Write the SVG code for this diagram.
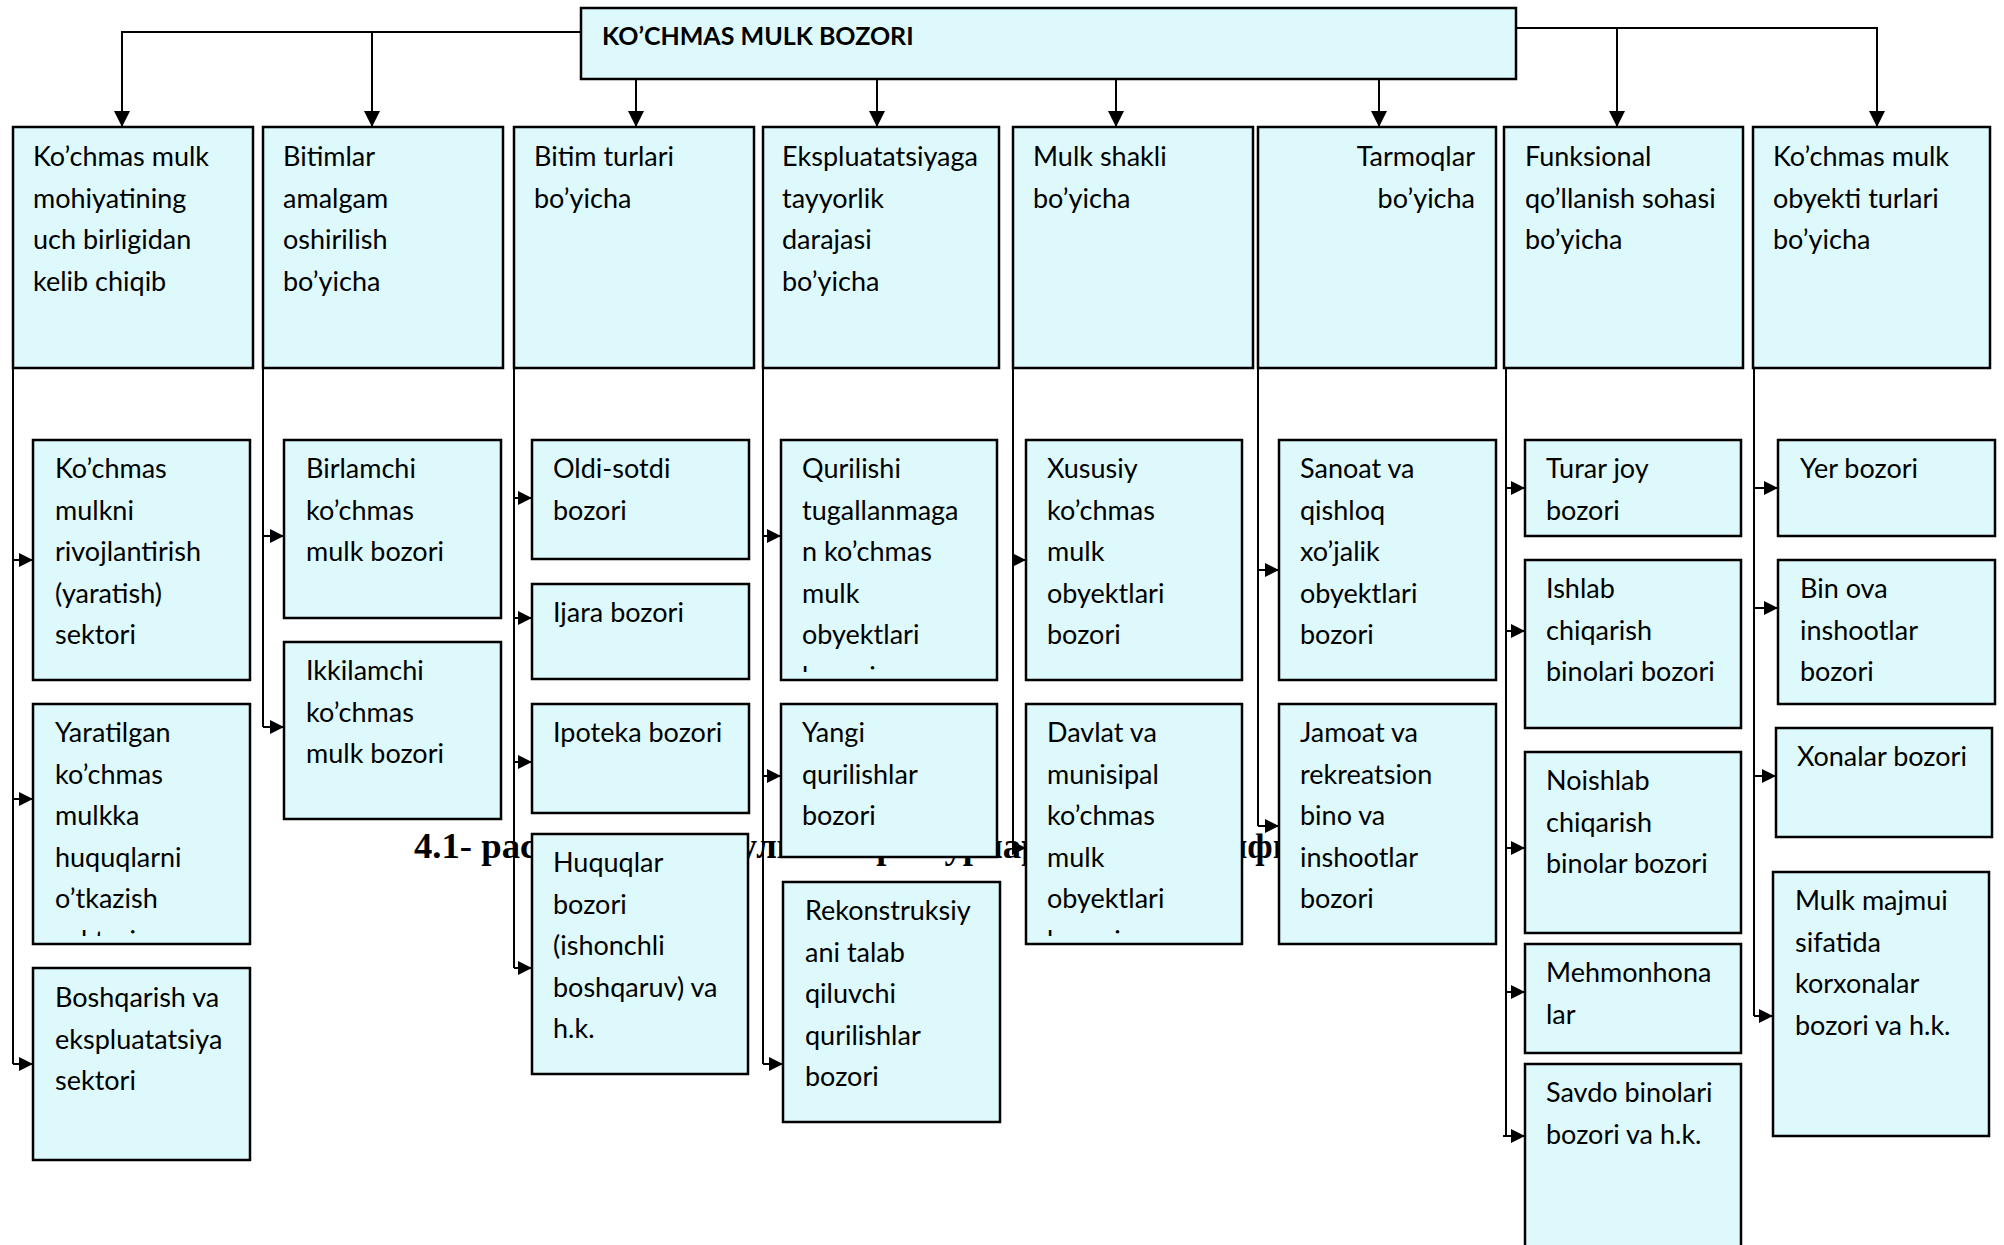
<svg xmlns="http://www.w3.org/2000/svg" width="2004" height="1245" viewBox="0 0 2004 1245">
<style>
.box{fill:#ddf9fb;stroke:#000;stroke-width:2.5}
.t{font-family:Lato,"Open Sans",sans-serif;font-size:27px;fill:#000}
.tb{font-family:Lato,"Open Sans",sans-serif;font-size:25px;font-weight:bold;fill:#000}
.cap{font-family:"Liberation Serif","Times New Roman",serif;font-size:36.7px;font-weight:bold;fill:#000}
.c{stroke:#000;stroke-width:2;fill:none}
.down{marker-end:url(#ah)}
.side{marker-end:url(#as)}
</style>
<defs>
<marker id="ah" viewBox="0 0 10 10" refX="10" refY="5" markerUnits="userSpaceOnUse" markerWidth="16" markerHeight="16" orient="auto"><path d="M0,0 L10,5 L0,10 z" fill="#000"/></marker>
<marker id="as" viewBox="0 0 10 10" refX="10" refY="5" markerUnits="userSpaceOnUse" markerWidth="14" markerHeight="14" orient="auto"><path d="M0,0 L10,5 L0,10 z" fill="#000"/></marker>
<clipPath id="clipA2"><rect x="33" y="704" width="217" height="232"/></clipPath>
<clipPath id="clipD1"><rect x="781" y="440" width="216" height="232"/></clipPath>
<clipPath id="clipE2"><rect x="1026" y="704" width="216" height="232"/></clipPath>
</defs>
<rect width="2004" height="1245" fill="#fff"/>

<text class="cap" x="414" y="858">4.1- расм. Кўчмас мулк бозори турларининг таснифи</text>

<g id="connectors">
<path class="c down" d="M581,32 H122 V127"/>
<path class="c down" d="M372,32 V127"/>
<path class="c down" d="M636,79 V127"/>
<path class="c down" d="M877,79 V127"/>
<path class="c down" d="M1116,79 V127"/>
<path class="c down" d="M1379,79 V127"/>
<path class="c down" d="M1517,28 H1877 V127"/>
<path class="c down" d="M1617,28 V127"/>

<path class="c" d="M13,368 V1064"/>
<path class="c side" d="M13,560 H33"/>
<path class="c side" d="M13,799 H33"/>
<path class="c side" d="M13,1064 H33"/>

<path class="c" d="M263,368 V727"/>
<path class="c side" d="M263,536 H284"/>
<path class="c side" d="M263,727 H284"/>

<path class="c" d="M514,368 V968"/>
<path class="c side" d="M514,498 H532"/>
<path class="c side" d="M514,618 H532"/>
<path class="c side" d="M514,762 H532"/>
<path class="c side" d="M514,968 H532"/>

<path class="c" d="M763,368 V1064"/>
<path class="c side" d="M763,536 H781"/>
<path class="c side" d="M763,776 H781"/>
<path class="c side" d="M763,1064 H783"/>

<path class="c" d="M1013,368 V848"/>
<path class="c side" d="M1013,560 H1026"/>
<path class="c side" d="M1013,848 H1026"/>

<path class="c" d="M1258,368 V826"/>
<path class="c side" d="M1258,570 H1279"/>
<path class="c side" d="M1258,826 H1279"/>

<path class="c" d="M1506,368 V1136"/>
<path class="c side" d="M1506,488 H1525"/>
<path class="c side" d="M1506,631 H1525"/>
<path class="c side" d="M1506,848 H1525"/>
<path class="c side" d="M1506,992 H1525"/>
<path class="c side" d="M1503,1136 H1525"/>

<path class="c" d="M1754,368 V1016"/>
<path class="c side" d="M1754,488 H1778"/>
<path class="c side" d="M1754,608 H1778"/>
<path class="c side" d="M1754,776 H1776"/>
<path class="c side" d="M1754,1016 H1773"/>
</g>

<g id="root">
<rect class="box" x="581" y="8" width="935" height="71"/>
<text class="tb" x="602" y="45">KO’CHMAS MULK BOZORI</text>
</g>

<g id="cat1"><rect class="box" x="13" y="127" width="240" height="241"/>
<text class="t" x="33" y="166"><tspan x="33">Ko’chmas mulk</tspan><tspan x="33" dy="41.5">mohiyatining</tspan><tspan x="33" dy="41.5">uch birligidan</tspan><tspan x="33" dy="41.5">kelib chiqib</tspan></text></g>
<g id="cat2"><rect class="box" x="263" y="127" width="240" height="241"/>
<text class="t" x="283" y="166"><tspan x="283">Bitimlar</tspan><tspan x="283" dy="41.5">amalgam</tspan><tspan x="283" dy="41.5">oshirilish</tspan><tspan x="283" dy="41.5">bo’yicha</tspan></text></g>
<g id="cat3"><rect class="box" x="514" y="127" width="240" height="241"/>
<text class="t" x="534" y="166"><tspan x="534">Bitim turlari</tspan><tspan x="534" dy="41.5">bo’yicha</tspan></text></g>
<g id="cat4"><rect class="box" x="763" y="127" width="236" height="241"/>
<text class="t" x="782" y="166"><tspan x="782">Ekspluatatsiyaga</tspan><tspan x="782" dy="41.5">tayyorlik</tspan><tspan x="782" dy="41.5">darajasi</tspan><tspan x="782" dy="41.5">bo’yicha</tspan></text></g>
<g id="cat5"><rect class="box" x="1013" y="127" width="240" height="241"/>
<text class="t" x="1033" y="166"><tspan x="1033">Mulk shakli</tspan><tspan x="1033" dy="41.5">bo’yicha</tspan></text></g>
<g id="cat6"><rect class="box" x="1258" y="127" width="238" height="241"/>
<text class="t" x="1475" y="166" text-anchor="end"><tspan x="1475">Tarmoqlar</tspan><tspan x="1475" dy="41.5">bo’yicha</tspan></text></g>
<g id="cat7"><rect class="box" x="1504" y="127" width="239" height="241"/>
<text class="t" x="1525" y="166"><tspan x="1525">Funksional</tspan><tspan x="1525" dy="41.5">qo’llanish sohasi</tspan><tspan x="1525" dy="41.5">bo’yicha</tspan></text></g>
<g id="cat8"><rect class="box" x="1753" y="127" width="237" height="241"/>
<text class="t" x="1773" y="166"><tspan x="1773">Ko’chmas mulk</tspan><tspan x="1773" dy="41.5">obyekti turlari</tspan><tspan x="1773" dy="41.5">bo’yicha</tspan></text></g>

<g id="A1"><rect class="box" x="33" y="440" width="217" height="240"/>
<text class="t" x="55" y="478"><tspan x="55">Ko’chmas</tspan><tspan x="55" dy="41.5">mulkni</tspan><tspan x="55" dy="41.5">rivojlantirish</tspan><tspan x="55" dy="41.5">(yaratish)</tspan><tspan x="55" dy="41.5">sektori</tspan></text></g>
<g id="A2"><rect class="box" x="33" y="704" width="217" height="240"/>
<text class="t" x="55" y="742" clip-path="url(#clipA2)"><tspan x="55">Yaratilgan</tspan><tspan x="55" dy="41.5">ko’chmas</tspan><tspan x="55" dy="41.5">mulkka</tspan><tspan x="55" dy="41.5">huquqlarni</tspan><tspan x="55" dy="41.5">o’tkazish</tspan><tspan x="55" dy="41.5">sektori</tspan></text></g>
<g id="A3"><rect class="box" x="33" y="968" width="217" height="192"/>
<text class="t" x="55" y="1007"><tspan x="55">Boshqarish va</tspan><tspan x="55" dy="41.5">ekspluatatsiya</tspan><tspan x="55" dy="41.5">sektori</tspan></text></g>

<g id="B1"><rect class="box" x="284" y="440" width="217" height="178"/>
<text class="t" x="306" y="478"><tspan x="306">Birlamchi</tspan><tspan x="306" dy="41.5">ko’chmas</tspan><tspan x="306" dy="41.5">mulk bozori</tspan></text></g>
<g id="B2"><rect class="box" x="284" y="642" width="217" height="177"/>
<text class="t" x="306" y="680"><tspan x="306">Ikkilamchi</tspan><tspan x="306" dy="41.5">ko’chmas</tspan><tspan x="306" dy="41.5">mulk bozori</tspan></text></g>

<g id="C1"><rect class="box" x="532" y="440" width="217" height="119"/>
<text class="t" x="553" y="478"><tspan x="553">Oldi-sotdi</tspan><tspan x="553" dy="41.5">bozori</tspan></text></g>
<g id="C2"><rect class="box" x="532" y="584" width="217" height="95"/>
<text class="t" x="553" y="622">Ijara bozori</text></g>
<g id="C3"><rect class="box" x="532" y="704" width="217" height="109"/>
<text class="t" x="553" y="742">Ipoteka bozori</text></g>
<g id="C4"><rect class="box" x="532" y="834" width="216" height="240"/>
<text class="t" x="553" y="872"><tspan x="553">Huquqlar</tspan><tspan x="553" dy="41.5">bozori</tspan><tspan x="553" dy="41.5">(ishonchli</tspan><tspan x="553" dy="41.5">boshqaruv) va</tspan><tspan x="553" dy="41.5">h.k.</tspan></text></g>

<g id="D1"><rect class="box" x="781" y="440" width="216" height="240"/>
<text class="t" x="802" y="478" clip-path="url(#clipD1)"><tspan x="802">Qurilishi</tspan><tspan x="802" dy="41.5">tugallanmaga</tspan><tspan x="802" dy="41.5">n ko’chmas</tspan><tspan x="802" dy="41.5">mulk</tspan><tspan x="802" dy="41.5">obyektlari</tspan><tspan x="802" dy="41.5">bozori</tspan></text></g>
<g id="D2"><rect class="box" x="781" y="704" width="216" height="153"/>
<text class="t" x="802" y="742"><tspan x="802">Yangi</tspan><tspan x="802" dy="41.5">qurilishlar</tspan><tspan x="802" dy="41.5">bozori</tspan></text></g>
<g id="D3"><rect class="box" x="783" y="882" width="217" height="240"/>
<text class="t" x="805" y="920"><tspan x="805">Rekonstruksiy</tspan><tspan x="805" dy="41.5">ani talab</tspan><tspan x="805" dy="41.5">qiluvchi</tspan><tspan x="805" dy="41.5">qurilishlar</tspan><tspan x="805" dy="41.5">bozori</tspan></text></g>

<g id="E1"><rect class="box" x="1026" y="440" width="216" height="240"/>
<text class="t" x="1047" y="478"><tspan x="1047">Xususiy</tspan><tspan x="1047" dy="41.5">ko’chmas</tspan><tspan x="1047" dy="41.5">mulk</tspan><tspan x="1047" dy="41.5">obyektlari</tspan><tspan x="1047" dy="41.5">bozori</tspan></text></g>
<g id="E2"><rect class="box" x="1026" y="704" width="216" height="240"/>
<text class="t" x="1047" y="742" clip-path="url(#clipE2)"><tspan x="1047">Davlat va</tspan><tspan x="1047" dy="41.5">munisipal</tspan><tspan x="1047" dy="41.5">ko’chmas</tspan><tspan x="1047" dy="41.5">mulk</tspan><tspan x="1047" dy="41.5">obyektlari</tspan><tspan x="1047" dy="41.5">bozori</tspan></text></g>

<g id="F1"><rect class="box" x="1279" y="440" width="217" height="240"/>
<text class="t" x="1300" y="478"><tspan x="1300">Sanoat va</tspan><tspan x="1300" dy="41.5">qishloq</tspan><tspan x="1300" dy="41.5">xo’jalik</tspan><tspan x="1300" dy="41.5">obyektlari</tspan><tspan x="1300" dy="41.5">bozori</tspan></text></g>
<g id="F2"><rect class="box" x="1279" y="704" width="217" height="240"/>
<text class="t" x="1300" y="742"><tspan x="1300">Jamoat va</tspan><tspan x="1300" dy="41.5">rekreatsion</tspan><tspan x="1300" dy="41.5">bino va</tspan><tspan x="1300" dy="41.5">inshootlar</tspan><tspan x="1300" dy="41.5">bozori</tspan></text></g>

<g id="G1"><rect class="box" x="1525" y="440" width="216" height="96"/>
<text class="t" x="1546" y="478"><tspan x="1546">Turar joy</tspan><tspan x="1546" dy="41.5">bozori</tspan></text></g>
<g id="G2"><rect class="box" x="1525" y="560" width="216" height="168"/>
<text class="t" x="1546" y="598"><tspan x="1546">Ishlab</tspan><tspan x="1546" dy="41.5">chiqarish</tspan><tspan x="1546" dy="41.5">binolari bozori</tspan></text></g>
<g id="G3"><rect class="box" x="1525" y="752" width="216" height="181"/>
<text class="t" x="1546" y="790"><tspan x="1546">Noishlab</tspan><tspan x="1546" dy="41.5">chiqarish</tspan><tspan x="1546" dy="41.5">binolar bozori</tspan></text></g>
<g id="G4"><rect class="box" x="1525" y="944" width="216" height="109"/>
<text class="t" x="1546" y="982"><tspan x="1546">Mehmonhona</tspan><tspan x="1546" dy="41.5">lar</tspan></text></g>
<g id="G5"><rect class="box" x="1525" y="1064" width="216" height="200"/>
<text class="t" x="1546" y="1102"><tspan x="1546">Savdo binolari</tspan><tspan x="1546" dy="41.5">bozori va h.k.</tspan></text></g>

<g id="H1"><rect class="box" x="1778" y="440" width="217" height="96"/>
<text class="t" x="1800" y="478">Yer bozori</text></g>
<g id="H2"><rect class="box" x="1778" y="560" width="217" height="144"/>
<text class="t" x="1800" y="598"><tspan x="1800">Bin ova</tspan><tspan x="1800" dy="41.5">inshootlar</tspan><tspan x="1800" dy="41.5">bozori</tspan></text></g>
<g id="H3"><rect class="box" x="1776" y="728" width="216" height="109"/>
<text class="t" x="1797" y="766">Xonalar bozori</text></g>
<g id="H4"><rect class="box" x="1773" y="872" width="216" height="264"/>
<text class="t" x="1795" y="910"><tspan x="1795">Mulk majmui</tspan><tspan x="1795" dy="41.5">sifatida</tspan><tspan x="1795" dy="41.5">korxonalar</tspan><tspan x="1795" dy="41.5">bozori va h.k.</tspan></text></g>
</svg>
